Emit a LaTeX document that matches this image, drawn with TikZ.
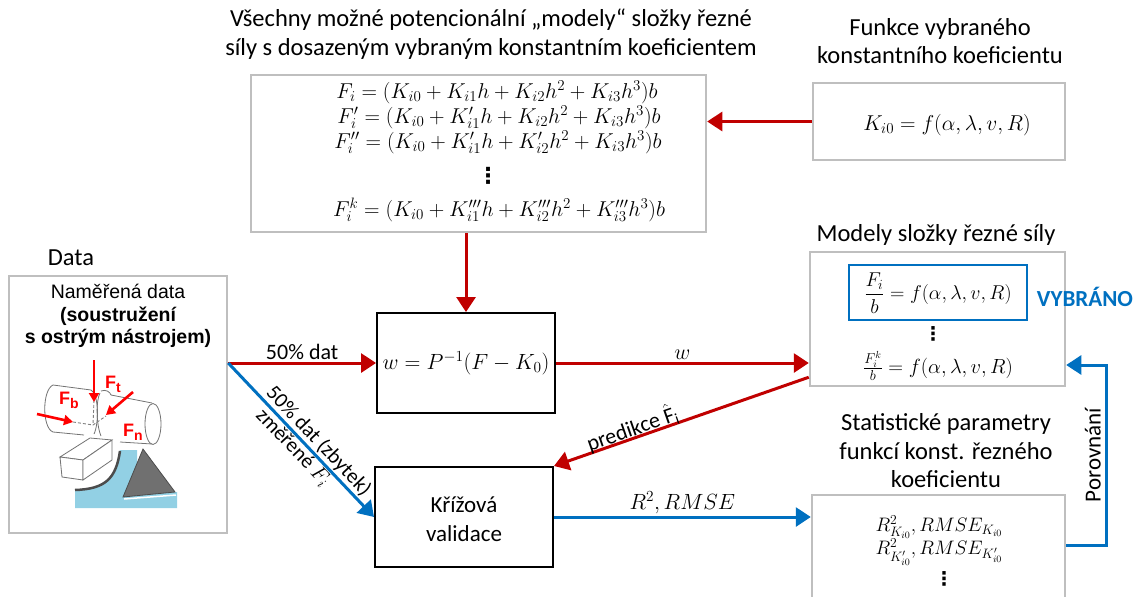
\RequirePackage{fix-cm}
\documentclass[tikz,border=0pt]{standalone}
\usepackage{amsmath}
\usepackage{fontspec}
\setmainfont{Carlito}
\newfontfamily\arialf{Liberation Sans}
\newfontfamily\symf{DejaVu Sans}
\usetikzlibrary{arrows.meta}
\definecolor{cred}{RGB}{192,0,0}
\definecolor{cblue}{RGB}{0,112,192}
\definecolor{cgray}{RGB}{191,191,191}
\definecolor{chip}{RGB}{146,208,228}
\definecolor{toolgray}{RGB}{112,112,112}
\begin{document}
\begin{tikzpicture}[x=1pt,y=-1pt,
  graybox/.style={draw=cgray, line width=2.5pt, inner sep=0pt},
  blackbox/.style={draw=black, line width=2pt, inner sep=0pt},
  redarrow/.style={draw=cred, line width=3pt, -{Triangle[length=15pt,width=19pt]}},
  bluearrow/.style={draw=cblue, line width=3pt, -{Triangle[length=15pt,width=19pt]}},
  forcearrow/.style={draw=red, line width=2.6pt, -{Triangle[length=9pt,width=10pt]}},
  title/.style={font=\fontsize{24.5}{28.5}\selectfont, align=center, inner sep=0pt},
  lbl/.style={font=\fontsize{22}{26}\selectfont, inner sep=2pt},
  eq/.style={font=\fontsize{21.5}{23}\selectfont, inner sep=0pt},
  dots/.style={font=\symf\bfseries\fontsize{22}{22}\selectfont, inner sep=0pt},
  forcelbl/.style={text=red, font=\arialf\bfseries\fontsize{18}{18}\selectfont, inner sep=0pt},
  outline/.style={draw=black!55, line width=0.8pt}]
\useasboundingbox (0,0) rectangle (1138,597);

% ---- titles
\node[title] (t1) at (491,34) {Všechny možné potencionální „modely“ složky řezné\\síly s dosazeným vybraným konstantním koeficientem};
\node[title] (t2) at (940,41) {Funkce vybraného\\konstantního koeficientu};
\node[title] (t3) at (71,258) {Data};
\node[title] (t4) at (936,235) {Modely složky řezné síly};
\node[title] (t5) at (946,451) {Statistické parametry\\funkcí konst. řezného\\koeficientu};

% ---- boxes
\node[graybox, minimum width=455pt, minimum height=157pt] (allm) at (478.5,153.5) {};
\node[graybox, minimum width=252pt, minimum height=77pt] (kbox) at (939,121.5) {};
\node[graybox, minimum width=218pt, minimum height=257pt] (data) at (118,404.5) {};
\node[blackbox, minimum width=178pt, minimum height=100pt] (wbox) at (466,363) {};
\node[blackbox, minimum width=178pt, minimum height=100pt] (kriz) at (464,517) {};
\node[graybox, minimum width=255pt, minimum height=134pt] (models) at (937.5,319) {};
\node[draw=cblue, line width=2pt, minimum width=178pt, minimum height=55pt] (sel) at (938,292.5) {};
\node[graybox, minimum width=253pt, minimum height=120pt] (stats) at (938.5,555) {};

% ---- formulas of all models
\node[eq] (f1) at (497,92) {$F_i=(K_{i0}+K_{i1}h+K_{i2}h^2+K_{i3}h^3)b$};
\node[eq] (f2) at (499,117) {$F_i'=(K_{i0}+K_{i1}'h+K_{i2}h^2+K_{i3}h^3)b$};
\node[eq] (f3) at (498,142) {$F_i''=(K_{i0}+K_{i1}'h+K_{i2}'h^2+K_{i3}h^3)b$};
\node[dots] (f4) at (488,176) {⋮};
\node[eq] (f5) at (499,210) {$F_i^k=(K_{i0}+K_{i1}'''h+K_{i2}'''h^2+K_{i3}'''h^3)b$};

\node[eq] (kf) at (947,125) {$K_{i0}=f(\alpha,\lambda,v,R)$};
\node[eq, font=\fontsize{22}{24}\selectfont] (wf) at (466,363) {$w=P^{-1}(F-K_0)$};
\node[font=\fontsize{23}{29}\selectfont, align=center, inner sep=0pt] (kt) at (464,519) {Křížová\\validace};

\node[eq, font=\fontsize{20}{22}\selectfont] (m1) at (938,293) {$\dfrac{F_i}{b}=f(\alpha,\lambda,v,R)$};
\node[dots, font=\symf\bfseries\fontsize{19}{19}\selectfont] (m2) at (933,334) {⋮};
\node[eq, font=\fontsize{20.5}{22}\selectfont] (m3) at (938,366) {$\tfrac{F_i^k}{b}=f(\alpha,\lambda,v,R)$};
\node[text=cblue, font=\bfseries\fontsize{23}{23}\selectfont, inner sep=0pt] (vyb) at (1085,297) {VYBRÁNO};

\node[eq, font=\fontsize{19.5}{22}\selectfont] (s1) at (939,527) {$R^2_{K_{i0}},RMSE_{K_{i0}}$};
\node[eq, font=\fontsize{19.5}{22}\selectfont] (s2) at (939,552) {$R^2_{K_{i0}'},RMSE_{K_{i0}'}$};
\node[dots, font=\symf\bfseries\fontsize{19}{19}\selectfont] (s3) at (944,579) {⋮};

% ---- data box text
\node[font=\arialf\fontsize{19.5}{22.5}\selectfont, align=center, inner sep=0pt] (dt) at (118,316)
  {Naměřená data\\{\bfseries(soustružení}\\{\bfseries s ostrým nástrojem)}};

% ---- turning sketch
\fill[chip] (75,490) -- (75,508) -- (177,508) -- (177,492) -- (137,492) -- (137,450) -- (120,450)
  .. controls (117,482) and (102,488) .. (75,490) -- cycle;
\draw[line width=2.5pt, black!70] (75,490) .. controls (106,489) and (116,478) .. (120,451);
\draw[draw=white, line width=1.5pt] (124,499) -- (176,495);
\draw[fill=toolgray, draw=black!70, line width=0.8pt] (143,449) -- (123,497) -- (175,492) -- cycle;
% workpiece
\draw[outline] (91,390) -- (53,385) .. controls (42,390) and (42,428) .. (53,432) -- (84,435);
\draw[outline] (91,390) .. controls (99,394) and (99,424) .. (94,434);
\draw[outline] (101,391) .. controls (106,389) and (110,392) .. (111,395);
\draw[outline] (100,393) .. controls (96,400) and (96,424) .. (101,436);
\draw[outline] (111,395) -- (152,403);
\draw[outline] (120,442) -- (152,444);
\draw[outline, fill=white] (153,424) ellipse [x radius=8, y radius=20.5];
% tool block
\draw[outline, fill=white] (60,457) -- (90,438) -- (112,440) -- (83,460) -- cycle;
\draw[outline, fill=white] (60,457) -- (83,460) -- (83,480) -- (62,477) -- cycle;
\draw[outline, fill=white] (83,460) -- (112,440) -- (112,460) -- (83,480) -- cycle;
% lines of action of the forces
\draw[black!50, dash pattern=on 3pt off 2pt, line width=0.9pt] (73,422) -- (93,425) -- (106,416);
\draw[black!50, dash pattern=on 3pt off 2pt, line width=0.9pt] (94,400) -- (93,425);
\draw[forcearrow] (94,360) -- (94,402);
\draw[forcearrow] (133,392) -- (106,415);
\draw[forcearrow] (37,414) -- (73,422);
\node[forcelbl] (ft) at (113,384) {F\raisebox{-4pt}{\fontsize{14}{14}\selectfont t}};
\node[forcelbl] (fb) at (69,400) {F\raisebox{-4pt}{\fontsize{14}{14}\selectfont b}};
\node[forcelbl] (fn) at (133,432) {F\raisebox{-4pt}{\fontsize{14}{14}\selectfont n}};

% ---- connectors
\draw[redarrow] (kbox.west) -- (kbox.west -| allm.east);
\draw[redarrow] (wbox.north |- allm.south) -- (wbox.north);
\draw[redarrow] (data.east |- wbox.west) -- node[lbl, above] {50\% dat} (wbox.west);
\draw[redarrow] (wbox.east) -- node[lbl, above] {$w$} (wbox.east -| models.west);
\draw[redarrow] ([yshift=10pt]models.south west) -- node[lbl, above, sloped, pos=0.68, inner sep=0pt, yshift=-3pt] {predikce $\hat{\textrm{F}}_{\textrm{i}}$} (kriz.north east);
\draw[bluearrow] (data.east |- wbox.west)
  -- node[font=\fontsize{21}{24}\selectfont, sloped, above, inner sep=1pt, pos=0.56] {50\% dat (zbytek)}
     node[font=\fontsize{21}{24}\selectfont, sloped, below, inner sep=1pt, pos=0.5] {změřené $F_i$}
  (kriz.west);
\draw[bluearrow] (kriz.east) -- node[lbl, above] {$R^2, RMSE$} (kriz.east -| stats.west);
\draw[bluearrow] ([yshift=10pt]stats.east) -- ++(40,0) |- node[font=\fontsize{23}{23}\selectfont, pos=0.25, rotate=90, anchor=south, inner sep=4pt] {Porovnání} ([yshift=-46pt]models.east);
\end{tikzpicture}
\end{document}
